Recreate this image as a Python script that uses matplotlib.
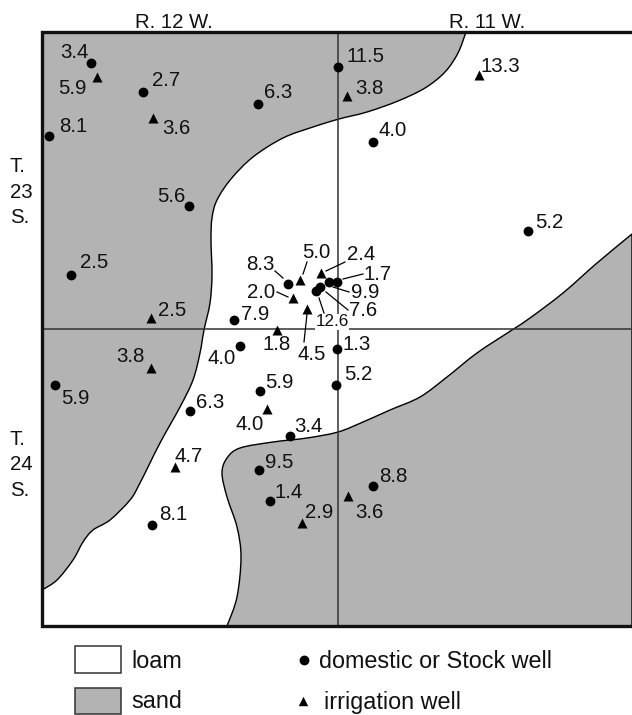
import numpy as np
import matplotlib.pyplot as plt
from matplotlib.path import Path
from matplotlib.patches import PathPatch, Rectangle

plt.rcParams['font.family'] = ['Liberation Sans', 'DejaVu Sans']

# map coordinates are image pixels
left, top, right, bottom = 42, 32, 632, 626
grid_x, grid_y = 338, 329

# sand boundaries
north_x = [466, 458, 445, 425, 398, 367, 339, 313, 283, 253, 231, 217, 212, 211, 212, 210, 204, 200, 193, 180, 160, 140, 130, 110, 93, 83, 73, 57, 42]
north_y = [32, 53, 72, 88, 101, 112, 119, 127, 138, 157, 179, 200, 218, 240, 275, 303, 330, 353, 380, 407, 443, 483, 500, 520, 530, 542, 560, 580, 590]
south_x = [632, 597, 563, 530, 512, 477, 447, 420, 390, 363, 338, 307, 273, 240, 227, 222, 227, 237, 241, 237, 227]
south_y = [234, 263, 293, 318, 330, 353, 377, 397, 410, 422, 432, 438, 442, 448, 458, 473, 497, 527, 557, 597, 626]

# domestic or stock wells
dom_x = [91, 143, 258, 338, 373, 49, 189, 528, 71, 55, 190, 260, 240, 234, 337, 336, 290, 259, 270, 373, 152, 288, 337, 329, 320, 316]
dom_y = [63, 92, 104, 67, 142, 136, 206, 231, 275, 385, 411, 391, 346, 320, 349, 385, 436, 470, 501, 486, 525, 284, 282, 282, 287, 291]
dom_labels = ['3.4', '2.7', '6.3', '11.5', '4.0', '8.1', '5.6', '5.2', '2.5', '5.9', '6.3', '5.9', '4.0', '7.9', '1.3', '5.2', '3.4', '9.5', '1.4', '8.8', '8.1', '8.3', '1.7', '9.9', '7.6', '12.6']
dom_lab_x = [74, 166, 278, 366, 393, 73, 171, 549, 94, 75, 210, 279, 222, 255, 357, 358, 308, 279, 289, 393, 173, 260, 378, 365, 363, 332]
dom_lab_y = [52, 81, 92, 56, 131, 126, 196, 222, 262, 398, 402, 383, 359, 315, 345, 375, 426, 462, 492, 477, 515, 264, 274, 292, 311, 322]

# irrigation wells
irr_x = [479, 97, 153, 347, 151, 151, 267, 277, 302, 348, 175, 300, 321, 293, 307]
irr_y = [75, 77, 118, 96, 318, 368, 409, 330, 523, 496, 467, 280, 273, 298, 309]
irr_labels = ['13.3', '5.9', '3.6', '3.8', '2.5', '3.8', '4.0', '1.8', '2.9', '3.6', '4.7', '5.0', '2.4', '2.0', '4.5']
irr_lab_x = [500, 72, 176, 369, 172, 130, 250, 277, 319, 369, 189, 316, 361, 261, 312]
irr_lab_y = [67, 88, 128, 89, 310, 357, 424, 345, 513, 513, 457, 253, 255, 292, 354]

# leader lines in the crowded part of the map
lead_x0 = [275, 307, 345, 363, 349, 348, 324, 277, 304]
lead_y0 = [271, 262, 262, 274, 292, 310, 313, 292, 342]
lead_x1 = [283, 303, 326, 343, 333, 326, 319, 288, 307]
lead_y1 = [278, 274, 271, 279, 287, 292, 298, 297, 314]

ranges = ['R. 12 W.', 'R. 11 W.']
range_x = [174, 487]
townships = ['T.\n23\nS.', 'T.\n24\nS.']
township_y = [192, 465]
sand_col = '#b3b3b3'


def smooth_path(xs, ys, closing):
    # catmull-rom through the boundary points, then straight along the frame
    pts = np.column_stack([xs, ys]).astype(float)
    verts = [pts[0]]
    codes = [Path.MOVETO]
    for i in range(len(pts) - 1):
        p0 = pts[max(i - 1, 0)]
        p1, p2 = pts[i], pts[i + 1]
        p3 = pts[min(i + 2, len(pts) - 1)]
        verts += [p1 + (p2 - p0) / 6, p2 - (p3 - p1) / 6, p2]
        codes += [Path.CURVE4] * 3
    for c in closing:
        verts.append(c)
        codes.append(Path.LINETO)
    verts.append(pts[0])
    codes.append(Path.CLOSEPOLY)
    return Path(verts, codes)


fig = plt.figure(figsize=(6.32, 7.15), dpi=100)
ax = fig.add_axes([0, 0, 1, 1])
ax.set_xlim(0, 632)
ax.set_ylim(715, 0)
ax.axis('off')

north = smooth_path(north_x, north_y, [(left, top)])
south = smooth_path(south_x, south_y, [(right, bottom)])
for p in (north, south):
    ax.add_patch(PathPatch(p, facecolor=sand_col, edgecolor='black', lw=1.0, zorder=1))

# the frame covers the patch edges on the border
ax.plot([grid_x, grid_x], [top, bottom], color='#333333', lw=1.1, zorder=2)
ax.plot([left, right], [grid_y, grid_y], color='#333333', lw=1.1, zorder=2)
ax.plot([right, left, left, right], [top, top, bottom, bottom], color='#111111', lw=2.4,
        solid_joinstyle='miter', zorder=3, clip_on=False)

ax.scatter(dom_x, dom_y, s=50, color='black', marker='o', linewidths=0, zorder=4)
ax.scatter(irr_x, irr_y, s=52, color='black', marker='^', linewidths=0, zorder=4)

for x0, y0, x1, y1 in zip(lead_x0, lead_y0, lead_x1, lead_y1):
    ax.plot([x0, x1], [y0, y1], color='black', lw=0.9, zorder=4)

for xs, ys, labels in [(dom_lab_x, dom_lab_y, dom_labels), (irr_lab_x, irr_lab_y, irr_labels)]:
    for x, y, s in zip(xs, ys, labels):
        if s == '12.6':
            # this one is smaller and blanks out the grid line behind it
            ax.text(x, y, s, fontsize=12.3, ha='center', va='center', color='#111111', zorder=5,
                    bbox=dict(facecolor='white', edgecolor='none', pad=0.5))
        else:
            ax.text(x, y, s, fontsize=14.7, ha='center', va='center', color='#111111', zorder=5)

for x, s in zip(range_x, ranges):
    ax.text(x, 22, s, fontsize=14.7, ha='center', va='center', color='#111111')
for y, s in zip(township_y, townships):
    ax.text(10, y, s, fontsize=14.7, ha='left', va='center', linespacing=1.44, color='#111111')

# legend
ax.add_patch(Rectangle((75, 646), 46, 27, facecolor='white', edgecolor='#333333', lw=1.1))
ax.add_patch(Rectangle((75, 688), 46, 26, facecolor=sand_col, edgecolor='#333333', lw=1.1))
ax.text(131, 662, 'loam', fontsize=16.8, va='center', color='#111111')
ax.text(131, 702, 'sand', fontsize=16.8, va='center', color='#111111')
ax.scatter([304], [660], s=50, color='black', marker='o', linewidths=0)
ax.scatter([303], [701], s=46, color='black', marker='^', linewidths=0)
ax.text(319, 662, 'domestic or Stock well', fontsize=16.8, va='center', color='#111111')
ax.text(324, 702, 'irrigation well', fontsize=16.8, va='center', color='#111111')

fig.savefig('out.png', dpi=100)
